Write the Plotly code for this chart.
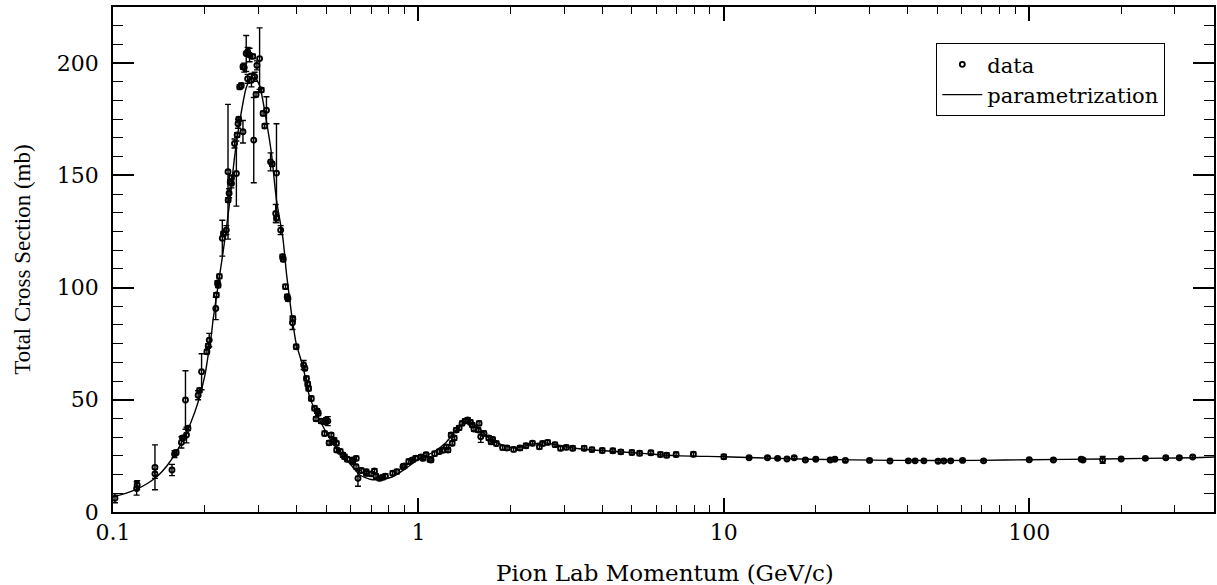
import plotly.graph_objects as go

# ---- parametrization curve ----
curve_x = [0.100, 0.110, 0.120, 0.130, 0.140, 0.150, 0.160, 0.170, 0.180, 0.190,
           0.200, 0.205, 0.210, 0.2126, 0.222, 0.230, 0.240, 0.250, 0.260, 0.273,
           0.287, 0.302, 0.318, 0.330, 0.343, 0.360, 0.370, 0.384, 0.398, 0.419,
           0.440, 0.475, 0.525, 0.595, 0.643, 0.700, 0.760, 0.824, 0.912, 1.000,
           1.114, 1.232, 1.330, 1.430, 1.544, 1.706, 1.886, 2.085, 2.363, 2.610,
           2.960, 3.360, 3.960, 5.430, 6.980, 10.0, 19.2, 36.0, 69.8, 100.0,
           174.0, 343.0, 403.0]
curve_y = [6.8, 8.3, 10.3, 12.8, 16.0, 20.5, 26.0, 32.5, 40.0, 49.0,
           61.0, 70.0, 79.0, 85.5, 103.0, 117.0, 136.0, 158.0, 174.0, 189.0,
           195.0, 190.0, 174.0, 160.0, 139.0, 122.0, 106.0, 88.5, 75.0, 64.7,
           51.4, 41.0, 30.6, 21.7, 16.5, 14.5, 14.6, 15.7, 19.5, 23.5,
           26.5, 31.0, 36.5, 40.0, 38.5, 32.8, 29.8, 28.5, 30.3, 30.8,
           29.3, 28.2, 27.4, 26.1, 25.1, 24.6, 23.5, 23.0, 23.0, 23.3,
           23.6, 24.2, 24.5]

data_x = [0.1015, 0.1195, 0.1200, 0.1372, 0.1372, 0.1560, 0.1590, 0.1610, 0.1675, 0.1690,
          0.1727, 0.1740, 0.1760, 0.1900, 0.1920, 0.1950, 0.2030, 0.2050, 0.2066, 0.2170,
          0.2180, 0.2200, 0.2210, 0.2230, 0.2280, 0.2300, 0.2350, 0.2383, 0.2380, 0.2400,
          0.2420, 0.2443, 0.2443, 0.2500, 0.2535, 0.2567, 0.2550, 0.2580, 0.2664, 0.2599,
          0.2630, 0.2664, 0.2690, 0.2730, 0.2760, 0.2800, 0.2760, 0.2840, 0.2870, 0.2910,
          0.2890, 0.2940, 0.2960, 0.3020, 0.3060, 0.3100, 0.3140, 0.3180, 0.3280, 0.3320,
          0.3430, 0.3410, 0.3430, 0.3540, 0.3590, 0.3610, 0.3670, 0.3720, 0.3740, 0.3870,
          0.3880, 0.3980, 0.4210, 0.4250, 0.4300, 0.4340, 0.4370, 0.4460, 0.4570, 0.4620,
          0.4660, 0.4700, 0.4800, 0.4930, 0.4940, 0.4990, 0.5050, 0.5100, 0.5180, 0.5250,
          0.5300, 0.5390, 0.5400, 0.5550, 0.5660, 0.5730, 0.5850, 0.6090, 0.6100, 0.6250,
          0.6260, 0.6340, 0.6500, 0.6750, 0.6750, 0.7000, 0.7180, 0.7260, 0.7460, 0.7640,
          0.7800, 0.8240, 0.8500, 0.8900, 0.8990, 0.9300, 0.9570, 0.9800, 1.0200, 1.0340,
          1.0600, 1.0900, 1.1000, 1.1300, 1.1700, 1.2000, 1.2340, 1.2500, 1.2800, 1.2900,
          1.3100, 1.3300, 1.3600, 1.3900, 1.4200, 1.4500, 1.4800, 1.5000, 1.5200, 1.5700,
          1.5800, 1.6000, 1.6400, 1.7000, 1.7300, 1.7500, 1.8000, 1.8860, 1.9500, 2.0500,
          2.1500, 2.2500, 2.3630, 2.4900, 2.5500, 2.6500, 2.8000, 2.9200, 3.0500, 3.2000,
          3.4900, 3.7000, 4.0000, 4.3300, 4.6000, 5.0000, 5.3000, 5.7700, 6.2000, 6.5000,
          6.9800, 7.9500, 10.0, 12.1, 13.9, 15.0, 16.1, 17.0, 18.5, 20.0,
          22.3, 23.1, 25.0, 30.0, 35.0, 40.2, 42.3, 45.2, 50.3, 52.5,
          55.3, 60.5, 70.9, 100.0, 120.0, 148.0, 150.0, 174.0, 200.0, 240.0,
          280.0, 310.0, 343.0]
data_y = [6.1, 10.5, 12.0, 19.9, 17.0, 18.7, 25.8, 26.5, 31.0, 33.0,
          49.9, 34.3, 37.3, 52.0, 54.2, 62.5, 71.4, 74.0, 76.6, 90.7,
          96.7, 102.0, 101.0, 105.0, 122.0, 124.0, 125.6, 139.0, 151.6, 142.0,
          147.0, 146.4, 149.0, 164.2, 150.8, 173.0, 168.0, 175.0, 169.4, 189.4,
          190.0, 198.4, 198.0, 204.3, 205.0, 203.6, 193.0, 192.4, 203.0, 193.9,
          165.7, 186.0, 199.0, 202.0, 188.0, 177.6, 172.0, 179.0, 156.0, 155.0,
          151.0, 133.0, 131.0, 125.6, 113.7, 112.6, 100.4, 95.9, 95.0, 84.3,
          86.0, 73.6, 65.5, 64.0, 59.5, 57.0, 55.0, 50.6, 46.2, 41.5,
          45.0, 44.0, 40.5, 35.0, 40.2, 41.0, 40.5, 30.8, 34.3, 31.3,
          32.0, 30.6, 27.6, 27.0, 25.4, 24.6, 23.5, 23.2, 22.4, 20.2,
          23.9, 15.0, 18.5, 17.2, 18.0, 17.0, 18.3, 16.0, 15.0, 15.5,
          16.0, 17.3, 18.0, 20.2, 20.5, 22.5, 23.2, 24.0, 24.5, 23.9,
          25.5, 23.4, 23.2, 26.0, 26.9, 27.5, 29.0, 27.6, 34.3, 30.6,
          33.0, 36.5, 37.5, 39.5, 40.5, 41.0, 40.0, 38.8, 37.0, 36.5,
          39.5, 33.5, 35.0, 33.0, 31.3, 32.3, 30.5, 28.7, 28.5, 27.9,
          28.5, 29.5, 30.6, 29.1, 30.5, 31.0, 30.0, 28.4, 28.8, 28.4,
          28.4, 27.8, 27.4, 27.3, 26.8, 26.5, 26.2, 26.4, 25.6, 25.3,
          25.6, 25.7, 24.6, 24.2, 24.2, 23.9, 23.6, 24.2, 23.2, 23.5,
          23.2, 23.5, 23.0, 23.0, 22.7, 22.8, 22.8, 22.8, 22.6, 22.7,
          22.8, 23.0, 22.8, 23.3, 23.2, 23.5, 23.2, 23.2, 23.6, 23.9,
          24.2, 24.2, 24.5]
data_err = [2, 3, 2, 10, 2, 2.5, 1.5, 1, 2.5, 1,
            13, 3.5, 1, 2, 1, 8, 1, 1, 3, 5,
            1, 1, 1, 1, 8, 1, 2, 1, 30, 2,
            1, 2, 1, 2, 14.5, 2, 1, 1, 5, 1,
            1, 1, 2, 8, 2, 3, 2, 3, 1, 2,
            19, 1, 2, 13.7, 1, 1, 1, 6, 4, 1,
            22, 4, 1, 2, 1, 1, 1, 1, 1, 3,
            1, 1, 2, 1, 1, 1, 1, 1, 1, 1,
            1, 1, 1, 1, 1, 1, 2, 1, 1, 1,
            1, 1, 1, 1, 1, 1, 1, 1, 1, 1,
            1, 3.5, 1, 1, 1, 1, 1, 1, 1, 1,
            1, 1, 1, 1, 1, 1, 1, 1, 1, 1,
            1, 1, 1, 1, 1, 1, 1, 1, 1, 1,
            1, 1, 1, 1, 1, 1, 1, 1, 1, 1,
            1, 2.5, 1, 1, 1, 1, 1, 1, 1, 1,
            1, 1, 1, 1, 1, 1, 1, 1, 1, 1,
            1, 1, 1, 1, 1, 1, 1, 1, 1, 1,
            1, 1, 1, 0.5, 0.5, 0.5, 0.5, 0.5, 0.5, 0.5,
            0.5, 0.5, 0.5, 0.5, 0.5, 0.5, 0.5, 0.5, 0.5, 0.5,
            0.5, 0.5, 0.5, 0.5, 0.5, 0.5, 0.5, 1.5, 0.5, 0.5,
            0.5, 0.5, 0.5]

x_tick_vals = [0.1, 1, 10, 100]
x_tick_text = ["0.1", "1", "10", "100"]
x_minor_vals = [m * d for d in [0.1, 1, 10, 100] for m in range(2, 10)]
y_tick_vals = [0, 50, 100, 150, 200]
y_minor_vals = [k * 50 / 6 for k in range(1, 27)]

x_title = "Pion Lab Momentum (GeV/c)"
y_title = "Total Cross Section (mb)"

fig = go.Figure()
fig.add_trace(go.Scatter(
    x=data_x, y=data_y, mode="markers", name="data",
    marker=dict(symbol="circle-open", size=5, color="black", line=dict(width=1.9, color="black")),
    error_y=dict(type="data", array=data_err, visible=True, color="black", thickness=1.4, width=3),
))
fig.add_trace(go.Scatter(
    x=curve_x, y=curve_y, mode="lines", name="parametrization",
    line=dict(color="black", width=1.4, shape="spline", smoothing=0.6),
))

fig.update_layout(
    width=1217, height=585,
    margin=dict(l=113, r=1, t=7, b=73),
    paper_bgcolor="white", plot_bgcolor="white",
    font=dict(family="DejaVu Serif", color="black", size=21),
    showlegend=True,
    legend=dict(x=0.9556, xanchor="right", y=0.9287, yanchor="top",
                bordercolor="black", borderwidth=1.2, bgcolor="white",
                font=dict(family="DejaVu Serif", size=21), tracegroupgap=0,
                traceorder="normal", itemwidth=40),
    annotations=[
        dict(text=x_title, xref="paper", yref="paper", x=0.5013, y=-0.1208,
             xanchor="center", yanchor="middle", showarrow=False,
             font=dict(family="DejaVu Serif", size=23, color="black")),
        dict(text=y_title, xref="paper", yref="paper", x=-0.0825, y=0.5,
             xanchor="center", yanchor="middle", showarrow=False, textangle=-90,
             font=dict(family="Liberation Serif", size=23, color="black")),
    ],
)
fig.update_xaxes(
    type="log", range=[-1, 2.605],
    showline=True, linecolor="black", linewidth=1.8, mirror="ticks",
    showgrid=False, zeroline=False,
    tickmode="array", tickvals=x_tick_vals, ticktext=x_tick_text,
    ticks="inside", ticklen=14, tickwidth=1.5, tickcolor="black",
    tickfont=dict(family="DejaVu Serif", size=22, color="black"),
    minor=dict(tickmode="array", tickvals=x_minor_vals, ticks="inside", ticklen=7,
               tickwidth=1.2, tickcolor="black", showgrid=False),
)
fig.update_yaxes(
    range=[0, 225],
    showline=True, linecolor="black", linewidth=1.8, mirror="ticks",
    showgrid=False, zeroline=False,
    tickmode="array", tickvals=y_tick_vals,
    ticks="inside", ticklen=21, tickwidth=1.5, tickcolor="black",
    ticklabelstandoff=8,
    tickfont=dict(family="DejaVu Serif", size=22, color="black"),
    minor=dict(tickmode="array", tickvals=y_minor_vals, ticks="inside", ticklen=10,
               tickwidth=1.2, tickcolor="black", showgrid=False),
)

fig.write_html("out.html")
